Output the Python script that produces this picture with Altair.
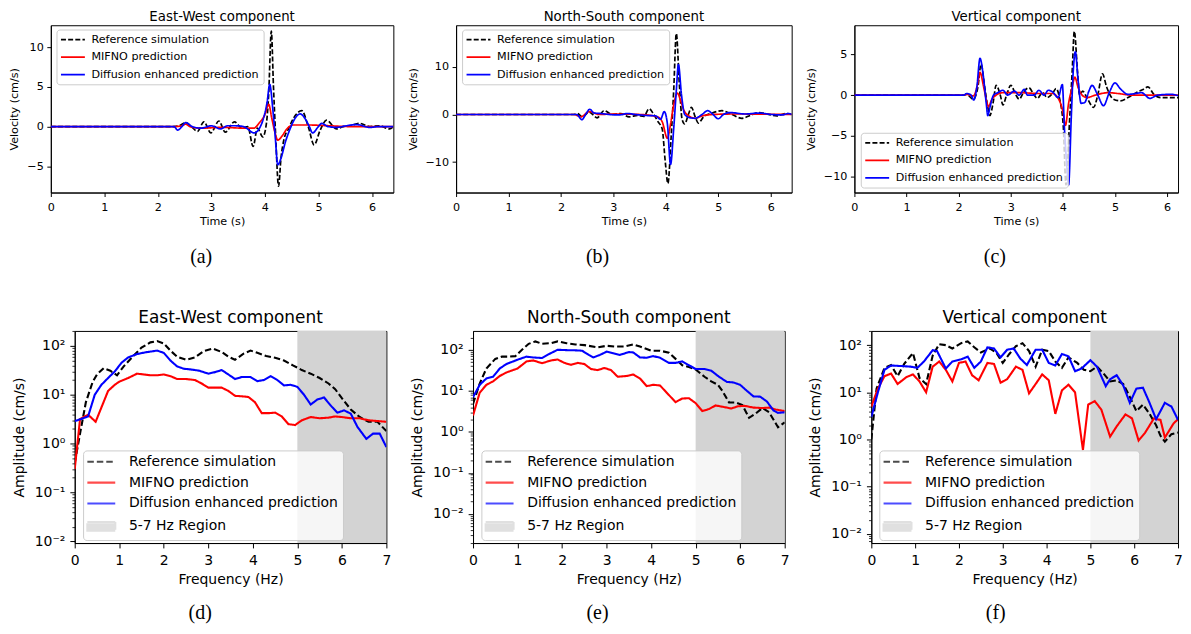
import altair as alt
import pandas as pd

FONT = "DejaVu Sans"
SERIF = "Liberation Serif"

SERIES = ["Reference simulation", "MIFNO prediction", "Diffusion enhanced prediction"]
REGION = "5-7 Hz Region"
SERIES4 = SERIES + [REGION]
LINE_COLORS = ["#000000", "#ff0000", "#0000ff"]
REGION_COLOR = "#d3d3d3"
TITLES = ["East-West component", "North-South component", "Vertical component"]
CAPTIONS_TOP = ["(a)", "(b)", "(c)"]
CAPTIONS_BOTTOM = ["(d)", "(e)", "(f)"]
TIME_TICKS = [0, 1, 2, 3, 4, 5, 6]
FREQ_TICKS = [0, 1, 2, 3, 4, 5, 6, 7]
VEL_TICKS = [[-5, 0, 5, 10], [-10, 0, 10], [-10, -5, 0, 5]]
VEL_DOMAINS = [[-8.3, 12.75], [-16.4, 18.75], [-11.93, 8.56]]
TIME_DOMAINS = [[0, 6.4], [0, 6.4], [0, 6.21]]   # panel (c) is cut at the right edge
AMP_DOMAINS = [[0.00925, 202], [0.00195, 288], [0.0064, 200]]
LOG_MINOR_MULT = [2, 3, 4, 5, 6, 7, 8, 9]
REGION_BAND = [5.0, 7.0]

# ---------------- (a) East-West velocity ----------------
EW_T_REF = [0, 2.3, 2.4, 2.52, 2.64, 2.74, 2.86, 2.99, 3.14, 3.26, 3.43, 3.57, 3.68, 3.78, 3.86, 3.96, 4.03, 4.07, 4.12, 4.16, 4.2, 4.255, 4.3, 4.36, 4.44, 4.53, 4.69, 4.81, 4.92, 5.03, 5.15, 5.34, 5.46, 5.59, 5.77, 5.96, 6.14, 6.33, 6.4]
EW_V_REF = [0, 0, 0.1, 0.5, -0.1, -0.6, 0.6, -0.8, 0.7, -0.7, 0.6, -0.2, 0.0, -2.5, -0.2, -1.3, 0.5, 4.0, 12.0, 5.0, -1.0, -7.5, -4.0, -1.5, -0.3, 1.0, 2.0, 0.0, -2.3, -0.5, 0.8, -0.3, 0.0, 0.1, 0.4, 0.0, 0.1, -0.3, 0.0]
EW_T_MIF = [0, 2.3, 2.45, 2.52, 2.6, 2.8, 3.2, 3.6, 3.79, 3.9, 4.0, 4.07, 4.13, 4.19, 4.24, 4.32, 4.41, 4.53, 4.8, 5.2, 5.6, 6.4]
EW_V_MIF = [0, 0, 0.1, 0.3, 0.0, -0.2, -0.1, -0.2, -0.2, 0.5, 1.5, 2.8, 1.0, -0.8, -1.7, -1.2, -0.3, 0.2, 0.2, 0.1, 0.0, 0.0]
EW_T_DIF = [0, 2.3, 2.37, 2.45, 2.52, 2.64, 2.8, 3.0, 3.17, 3.3, 3.45, 3.6, 3.8, 3.88, 3.98, 4.04, 4.09, 4.15, 4.19, 4.24, 4.3, 4.38, 4.47, 4.56, 4.66, 4.75, 4.83, 4.89, 5.0, 5.06, 5.18, 5.34, 5.52, 5.71, 5.96, 6.14, 6.4]
EW_V_DIF = [0, 0, -0.45, 0.0, 0.5, 0.0, -0.2, 0.1, -0.3, 0.1, 0.1, 0.0, -0.8, -0.4, 1.2, 3.0, 5.3, 2.0, -1.0, -4.8, -4.0, -2.0, -0.3, 1.0, 1.6, 1.0, 0.0, -0.8, 0.0, 0.4, 0.0, -0.1, 0.1, 0.25, -0.1, 0.0, 0.0]

# ---------------- (b) North-South velocity ----------------
NS_T_REF = [0, 2.25, 2.31, 2.41, 2.54, 2.69, 2.82, 2.98, 3.14, 3.3, 3.46, 3.58, 3.68, 3.77, 3.85, 3.93, 3.99, 4.04, 4.1, 4.15, 4.2, 4.26, 4.31, 4.36, 4.43, 4.49, 4.56, 4.62, 4.72, 4.88, 5.07, 5.26, 5.45, 5.61, 5.77, 5.96, 6.12, 6.28, 6.4]
NS_V_REF = [0, 0, 0.2, -0.5, 0.5, -0.7, 0.8, 0.0, 0.2, -0.5, -0.2, -0.4, 1.2, 0.0, -1.5, -3.0, -10.0, -14.5, -5.0, 5.0, 17.0, 6.0, -1.0, -2.0, 0.0, 1.5, -0.5, -1.8, -0.5, 0.3, 0.8, 0.0, -0.8, -0.2, 0.4, 0.0, -0.3, 0.2, 0.0]
NS_T_MIF = [0, 2.25, 2.38, 2.54, 2.73, 3.0, 3.5, 3.84, 3.93, 4.03, 4.09, 4.15, 4.22, 4.28, 4.34, 4.44, 4.56, 4.69, 4.9, 5.3, 6.4]
NS_V_MIF = [0, 0, -0.5, 0.6, 0.0, 0.1, 0.0, -0.5, -1.5, -5.0, -2.0, 2.0, 4.5, 3.0, 1.0, -0.3, -0.8, -0.3, 0.0, 0.1, 0.0]
NS_T_DIF = [0, 2.3, 2.4, 2.47, 2.55, 2.63, 2.76, 2.92, 3.11, 3.27, 3.42, 3.61, 3.8, 3.9, 3.97, 4.03, 4.09, 4.15, 4.2, 4.24, 4.3, 4.36, 4.47, 4.56, 4.69, 4.8, 4.9, 5.0, 5.1, 5.23, 5.52, 5.77, 6.02, 6.21, 6.34, 6.4]
NS_V_DIF = [0, 0, -1.1, 0.0, 1.1, 0.3, 0.2, 0.0, -0.1, 0.2, 0.0, -0.2, -0.3, -1.0, 0.6, -2.0, -10.5, -3.0, 5.0, 10.5, 4.0, 0.0, -0.7, -0.8, 0.0, 0.8, 0.0, -0.9, 0.0, 0.4, 0.1, 0.3, 0.0, -0.1, 0.2, 0.0]

# ---------------- (c) Vertical velocity ----------------
UD_T_REF = [0, 2.1, 2.15, 2.28, 2.37, 2.43, 2.5, 2.56, 2.6, 2.66, 2.72, 2.8, 2.85, 2.92, 3.0, 3.1, 3.16, 3.26, 3.35, 3.45, 3.51, 3.61, 3.7, 3.8, 3.87, 3.94, 4.01, 4.06, 4.13, 4.18, 4.22, 4.28, 4.32, 4.38, 4.46, 4.59, 4.67, 4.76, 4.84, 4.97, 5.1, 5.25, 5.41, 5.54, 5.63, 5.76, 5.89, 6.08, 6.27, 6.4]
UD_V_REF = [0, 0, 0.1, -0.5, 1.0, 3.8, 1.0, -1.5, -2.5, -1.0, 1.2, 0.0, -1.2, 0.0, 1.2, 0.0, -0.5, 0.5, 0.9, 0.0, -0.4, 0.3, -0.3, 0.2, 0.8, -0.5, -4.0, -11.0, -3.0, 3.0, 7.8, 3.0, 0.0, 0.5, -0.3, -1.5, 0.0, 2.6, 1.0, -0.5, -0.7, -0.3, 0.3, 0.7, 1.0, 0.0, -0.3, -0.3, -0.3, -0.2]
UD_T_MIF = [0, 2.1, 2.15, 2.28, 2.37, 2.41, 2.48, 2.54, 2.57, 2.64, 2.72, 2.85, 3.16, 3.54, 3.8, 3.92, 4.0, 4.05, 4.11, 4.18, 4.23, 4.29, 4.37, 4.46, 4.62, 4.87, 5.06, 5.32, 6.4]
UD_V_MIF = [0, 0, 0.1, -0.1, 1.5, 2.8, 1.0, -0.8, -1.4, -0.5, 0.0, 0.3, 0.3, 0.2, 0.2, -0.5, -2.0, -3.7, -1.0, 1.0, 2.2, 1.0, 0.0, -0.3, 0.0, 0.3, 0.2, 0.0, 0.0]
UD_T_DIF = [0, 2.1, 2.15, 2.24, 2.29, 2.35, 2.41, 2.48, 2.53, 2.56, 2.6, 2.67, 2.75, 2.85, 2.94, 3.07, 3.16, 3.26, 3.32, 3.45, 3.54, 3.64, 3.72, 3.8, 3.91, 3.99, 4.03, 4.08, 4.11, 4.16, 4.2, 4.24, 4.29, 4.35, 4.42, 4.5, 4.56, 4.67, 4.78, 4.89, 5.0, 5.1, 5.25, 5.4, 5.51, 5.67, 5.82, 6.08, 6.33, 6.4]
UD_V_DIF = [0, 0, 0.2, 0.0, -0.6, 1.0, 4.5, 2.0, -1.0, -2.5, -1.5, 0.0, 0.3, 0.6, 0.0, 0.5, 0.0, 0.7, 0.0, 0.0, 0.6, 0.0, 0.6, 0.4, -0.3, 1.3, -4.0, -9.0, -11.0, -3.0, 3.0, 5.3, 2.0, -1.0, -0.9, 0.5, 1.2, 0.0, -1.3, 0.3, 1.5, 0.8, 0.1, 0.2, 0.3, -0.4, 0.0, 0.1, -0.2, -0.1]

# ---------------- (d) East-West spectrum ----------------
EWF_F_REF = [0.0, 0.13, 0.25, 0.4, 0.5, 0.65, 0.8, 0.95, 1.1, 1.3, 1.5, 1.7, 1.85, 2.0, 2.15, 2.3, 2.5, 2.7, 2.9, 3.1, 3.3, 3.45, 3.6, 3.8, 3.95, 4.1, 4.3, 4.5, 4.7, 4.9, 5.1, 5.3, 5.5, 5.7, 5.85, 6.0, 6.2, 6.4, 6.6, 6.8, 7.0]
EWF_A_REF = [0.4, 1.8, 7.0, 18.0, 26.0, 35.0, 31.0, 25.0, 38.0, 60.0, 92.0, 118.0, 125.0, 112.0, 80.0, 60.0, 52.0, 58.0, 78.0, 88.0, 75.0, 60.0, 52.0, 70.0, 80.0, 72.0, 62.0, 57.0, 50.0, 40.0, 32.0, 27.0, 22.0, 17.0, 13.0, 8.5, 5.0, 3.5, 2.8, 2.8, 1.8]
EWF_F_MIF = [0.0, 0.12, 0.3, 0.47, 0.6, 0.75, 0.9, 1.0, 1.2, 1.4, 1.55, 1.7, 1.85, 2.0, 2.15, 2.3, 2.5, 2.7, 2.85, 3.0, 3.15, 3.3, 3.45, 3.6, 3.75, 3.9, 4.05, 4.2, 4.35, 4.5, 4.65, 4.8, 4.95, 5.1, 5.3, 5.5, 5.7, 5.85, 6.0, 6.2, 6.4, 6.6, 6.8, 7.0]
EWF_A_MIF = [0.3, 3.2, 3.9, 2.8, 5.5, 12.0, 16.0, 18.5, 22.0, 27.0, 26.0, 25.0, 25.0, 26.0, 24.0, 21.0, 21.0, 20.0, 17.0, 14.0, 14.0, 14.0, 12.0, 9.5, 9.3, 9.0, 7.0, 4.2, 4.2, 4.3, 3.6, 2.5, 2.4, 3.0, 3.5, 3.3, 3.4, 3.6, 3.5, 3.3, 3.3, 3.0, 2.9, 2.8]
EWF_F_DIF = [0.0, 0.15, 0.3, 0.45, 0.6, 0.75, 0.9, 1.05, 1.2, 1.4, 1.6, 1.85, 2.0, 2.15, 2.3, 2.45, 2.6, 2.8, 3.0, 3.15, 3.3, 3.45, 3.6, 3.75, 3.95, 4.1, 4.25, 4.4, 4.55, 4.7, 4.85, 5.0, 5.15, 5.3, 5.45, 5.6, 5.75, 5.9, 6.05, 6.2, 6.35, 6.55, 6.7, 6.85, 7.0]
EWF_A_DIF = [2.9, 3.2, 3.6, 10.0, 16.0, 22.0, 30.0, 45.0, 58.0, 68.0, 74.0, 80.0, 72.0, 50.0, 38.0, 34.0, 33.0, 31.0, 27.0, 29.0, 32.0, 26.0, 21.0, 23.0, 23.0, 19.0, 20.0, 24.0, 20.0, 15.5, 16.0, 14.5, 10.0, 6.3, 8.0, 8.8, 6.0, 4.3, 4.8, 4.1, 2.2, 1.25, 1.6, 1.6, 0.85]

# ---------------- (e) North-South spectrum ----------------
NSF_F_REF = [0.0, 0.15, 0.3, 0.5, 0.65, 0.8, 0.95, 1.1, 1.25, 1.4, 1.55, 1.75, 1.9, 2.1, 2.3, 2.5, 2.8, 3.0, 3.2, 3.4, 3.6, 3.75, 4.0, 4.2, 4.4, 4.55, 4.7, 4.85, 5.0, 5.2, 5.35, 5.5, 5.6, 5.75, 5.9, 6.05, 6.2, 6.35, 6.5, 6.65, 6.85, 7.0]
NSF_A_REF = [4.8, 15, 35, 60, 68, 68, 70, 100, 140, 160, 140, 145, 160, 145, 135, 130, 115, 125, 120, 120, 135, 120, 95, 95, 85, 60, 42, 38, 33, 22, 17, 14, 10, 5.2, 5.2, 4.5, 2.2, 2.8, 3.8, 3.0, 1.3, 1.7]
NSF_F_MIF = [0.0, 0.15, 0.3, 0.45, 0.6, 0.75, 0.9, 1.0, 1.2, 1.35, 1.55, 1.75, 1.9, 2.05, 2.2, 2.35, 2.5, 2.65, 2.8, 2.95, 3.1, 3.25, 3.45, 3.6, 3.75, 3.9, 4.05, 4.2, 4.35, 4.55, 4.7, 4.85, 5.0, 5.15, 5.3, 5.45, 5.6, 5.8, 5.95, 6.1, 6.3, 6.5, 6.65, 6.8, 7.0]
NSF_A_MIF = [2.5, 9, 14, 17, 23, 28, 32, 35, 52, 55, 47, 55, 58, 48, 43, 48, 45, 34, 32, 36, 32, 22, 23, 25, 20, 13, 14, 13.5, 9, 5.3, 6.5, 6.6, 5, 3.2, 3.6, 4.4, 4.1, 3.7, 4.2, 4.3, 3.9, 3.8, 3.9, 3.5, 3.2]
NSF_F_DIF = [0.0, 0.15, 0.3, 0.45, 0.6, 0.75, 0.9, 1.05, 1.2, 1.35, 1.55, 1.7, 1.9, 2.1, 2.3, 2.45, 2.6, 2.7, 2.85, 3.0, 3.15, 3.3, 3.5, 3.6, 3.75, 3.9, 4.05, 4.2, 4.4, 4.55, 4.7, 4.85, 5.0, 5.2, 5.35, 5.5, 5.7, 5.85, 6.0, 6.15, 6.3, 6.45, 6.6, 6.75, 6.85, 7.0]
NSF_A_DIF = [7, 14, 20, 22, 35, 45, 52, 60, 68, 65, 63, 78, 100, 98, 97, 95, 75, 65, 75, 90, 82, 75, 88, 86, 65, 64, 70, 64, 48, 48, 52, 42, 34, 34, 31, 23, 16.5, 16, 14, 10, 7.3, 7.2, 5.5, 3.3, 2.9, 3.0]

# ---------------- (f) Vertical spectrum ----------------
UDF_F_REF = [0.0, 0.12, 0.3, 0.45, 0.6, 0.75, 0.95, 1.1, 1.25, 1.4, 1.55, 1.7, 1.85, 2.05, 2.2, 2.35, 2.5, 2.7, 2.85, 3.0, 3.15, 3.3, 3.45, 3.6, 3.75, 3.9, 4.05, 4.2, 4.35, 4.5, 4.7, 4.85, 5.0, 5.15, 5.3, 5.45, 5.6, 5.75, 5.9, 6.05, 6.2, 6.35, 6.5, 6.6, 6.7, 6.85, 7.0]
UDF_A_REF = [1, 12, 33, 38, 22, 40, 68, 20, 15, 60, 105, 100, 85, 110, 120, 90, 70, 85, 70, 42, 65, 95, 110, 75, 35, 80, 75, 45, 33, 55, 42, 30, 28, 35, 25, 17, 18, 15, 8, 4, 5.5, 3.5, 2, 1.2, 0.9, 1.3, 1.4]
UDF_F_MIF = [0.0, 0.15, 0.3, 0.45, 0.6, 0.8, 0.95, 1.1, 1.25, 1.4, 1.55, 1.7, 1.85, 2.0, 2.15, 2.3, 2.45, 2.65, 2.8, 2.95, 3.1, 3.3, 3.45, 3.6, 3.75, 3.9, 4.05, 4.2, 4.35, 4.5, 4.65, 4.83, 4.95, 5.1, 5.25, 5.45, 5.6, 5.8, 5.95, 6.1, 6.25, 6.45, 6.6, 6.7, 6.9, 7.0]
UDF_A_MIF = [5, 12, 22, 25, 15, 21, 24, 17, 10, 35, 45, 30, 17, 42, 45, 23, 18, 42, 40, 16, 19, 35, 30, 9.5, 15, 24, 18, 3.5, 11, 14.5, 10, 0.6, 5.5, 6.5, 4.3, 1.15, 1.9, 3.4, 2.8, 0.95, 1.4, 2.8, 2.6, 1.1, 2.2, 2.7]
UDF_F_DIF = [0.0, 0.15, 0.3, 0.45, 0.7, 0.9, 1.05, 1.2, 1.4, 1.5, 1.7, 1.85, 2.05, 2.2, 2.35, 2.5, 2.65, 2.8, 2.95, 3.1, 3.25, 3.4, 3.55, 3.75, 3.9, 4.05, 4.2, 4.35, 4.5, 4.65, 4.8, 5.0, 5.15, 5.35, 5.45, 5.6, 5.75, 5.9, 6.05, 6.2, 6.35, 6.5, 6.7, 6.85, 7.0]
UDF_A_DIF = [3, 10, 30, 37, 36, 35, 33, 45, 78, 75, 32, 45, 50, 57, 33, 45, 90, 85, 55, 80, 85, 52, 38, 80, 80, 42, 37, 65, 58, 28, 32, 48, 35, 13.5, 19, 23, 14, 6, 12, 12.5, 6, 2.7, 6, 5, 2.6]

# ---------------- layout (pixels) ----------------
TOP_H = 168
TOP_W = [344, 337, 325]
TOP_SPACING = 63
BOT_H = 213
BOT_W = [313, 313, 308]
BOT_SPACING = 87
BOT_SHIFT = 24          # bottom row starts 24 px to the right of the top row
ROW_SPACING = 40
TOP_LEG = [(5.7, 4.3), (6.0, 4.3), (6.4, 108.0)]
BOT_LEG = [(8.4, 120.0), (8.4, 120.0), (8.0, 120.0)]
TOP_CAP_X = [151, 142, 141]
TOP_CAP_Y = 233
BOT_CAP_X = [126, 125, 125]
BOT_CAP_Y = 283
CAP_SIZE = 20


def long_frame(xname, yname, parts):
    rows = []
    for name, xs, ys in parts:
        rows += [{xname: x, yname: y, "series": name} for x, y in zip(xs, ys)]
    return pd.DataFrame(rows)


def caption_layer(text, cx, cy):
    return alt.Chart(pd.DataFrame({"label": [text]})).mark_text(
        font=SERIF, fontSize=CAP_SIZE, color="black", align="center", baseline="middle"
    ).encode(x=alt.value(cx), y=alt.value(cy), text="label:N")


def top_panel(i, parts):
    df = long_frame("t", "v", parts)
    lx, ly = TOP_LEG[i]
    legend = alt.Legend(
        title=None, orient="none", legendX=lx, legendY=ly,
        fillColor="rgba(255,255,255,0.8)", strokeColor="#cccccc", cornerRadius=3,
        padding=4.5, labelFont=FONT, labelFontSize=11.2, labelColor="black", labelLimit=400,
        symbolType="M-8,0H8", symbolSize=9, symbolStrokeWidth=1.7,
        symbolOffset=6.4, labelOffset=13, rowPadding=5.6,
    )
    xaxis = alt.Axis(values=TIME_TICKS, title="Time (s)", format="d", labelFontSize=11.2,
                     titleFontSize=11.2, tickSize=4, labelPadding=5, titlePadding=3,
                     labelFlush=False)
    yaxis = alt.Axis(values=VEL_TICKS[i], title="Velocity (cm/s)", format="d",
                     labelFontSize=11.2, titleFontSize=11.2, tickSize=4, labelPadding=3.6,
                     titlePadding=7)
    lines = alt.Chart(df).mark_line(interpolate="monotone", strokeWidth=1.7, clip=True).encode(
        x=alt.X("t:Q", scale=alt.Scale(domain=TIME_DOMAINS[i], nice=False, zero=False), axis=xaxis),
        y=alt.Y("v:Q", scale=alt.Scale(domain=VEL_DOMAINS[i], nice=False, zero=False), axis=yaxis),
        color=alt.Color("series:N", scale=alt.Scale(domain=SERIES, range=LINE_COLORS), legend=legend),
        strokeDash=alt.StrokeDash("series:N", scale=alt.Scale(domain=SERIES, range=[[5, 2.2], [1, 0], [1, 0]]), legend=legend),
    )
    cap = caption_layer(CAPTIONS_TOP[i], TOP_CAP_X[i], TOP_CAP_Y)
    return alt.layer(lines, cap).properties(
        width=TOP_W[i], height=TOP_H,
        title=alt.TitleParams(TITLES[i], fontSize=13.4, offset=2, font=FONT,
                              fontWeight="normal", color="black"),
    )


MINOR_TEST = "abs(log(datum.value)/LN10 - round(log(datum.value)/LN10)) > 0.01"
EXP = "round(log(datum.value)/LN10)"
LOG_LABELS = (
    f"{MINOR_TEST} ? '' : {EXP} == 2 ? '10²' : {EXP} == 1 ? '10¹' : {EXP} == 0 ? '10⁰' : "
    f"{EXP} == -1 ? '10⁻¹' : '10⁻²'"
)
LINE_SYM = "M-7,0H7"
PATCH_SYM = "M-7,-2.2H7V-1.1H-7V0H7V1.1H-7V2.2H7"


def bottom_panel(i, parts):
    df = long_frame("f", "a", parts)
    lo, hi = AMP_DOMAINS[i]
    ticks = [m * 10.0 ** k for k in range(-3, 3) for m in [1] + LOG_MINOR_MULT]
    ticks = [v for v in ticks if lo <= v <= hi]
    lx, ly = BOT_LEG[i]
    legend = alt.Legend(
        title=None, orient="none", legendX=lx, legendY=ly,
        fillColor="rgba(255,255,255,0.8)", strokeColor="#cccccc", cornerRadius=3.5,
        padding=4.3, labelFont=FONT, labelFontSize=14, labelColor="black", labelLimit=500,
        symbolSize=16, symbolStrokeWidth=2.1,
        symbolOffset=7, labelOffset=20.7, rowPadding=7,
    )
    xscale = alt.Scale(domain=[0, 7], nice=False, zero=False)
    yscale = alt.Scale(type="log", domain=AMP_DOMAINS[i], nice=False)
    xaxis = alt.Axis(values=FREQ_TICKS, title="Frequency (Hz)", format="d", labelFontSize=14,
                     titleFontSize=14, tickSize=4.9, labelPadding=6, titlePadding=5,
                     labelFlush=False)
    yaxis = alt.Axis(values=ticks, title="Amplitude (cm/s)", labelExpr=LOG_LABELS,
                     labelFontSize={"condition": {"test": MINOR_TEST, "value": 0}, "value": 14},
                     titleFontSize=14,
                     tickSize={"condition": {"test": MINOR_TEST, "value": 2.8}, "value": 4.9},
                     tickWidth={"condition": {"test": MINOR_TEST, "value": 0.8}, "value": 1},
                     labelPadding=5, titlePadding=8, labelOverlap=False)
    band = alt.Chart(pd.DataFrame({"f0": [REGION_BAND[0]], "f1": [REGION_BAND[1]]})).mark_rect(
        color=REGION_COLOR, clip=True
    ).encode(x=alt.X("f0:Q", scale=xscale, axis=xaxis), x2="f1:Q")
    color = alt.Color("series:N", scale=alt.Scale(domain=SERIES4, range=LINE_COLORS + [REGION_COLOR]), legend=legend)
    lines = alt.Chart(df).mark_line(strokeWidth=2.1, clip=True).encode(
        x=alt.X("f:Q", scale=xscale, axis=xaxis),
        y=alt.Y("a:Q", scale=yscale, axis=yaxis),
        color=color,
        strokeDash=alt.StrokeDash("series:N", scale=alt.Scale(domain=SERIES4, range=[[6.5, 3], [1, 0], [1, 0], [1, 0]]), legend=legend),
    )
    keys = alt.Chart(pd.DataFrame({"f": [None] * 4, "a": [None] * 4, "series": SERIES4})).mark_point(
        filled=False
    ).encode(
        x=alt.X("f:Q", scale=xscale, axis=xaxis),
        y=alt.Y("a:Q", scale=yscale, axis=yaxis),
        color=color,
        shape=alt.Shape("series:N", scale=alt.Scale(domain=SERIES4, range=[LINE_SYM, LINE_SYM, LINE_SYM, PATCH_SYM]), legend=legend),
    )
    cap = caption_layer(CAPTIONS_BOTTOM[i], BOT_CAP_X[i], BOT_CAP_Y)
    return alt.layer(band, lines, keys, cap).properties(
        width=BOT_W[i], height=BOT_H,
        title=alt.TitleParams(TITLES[i], fontSize=17, offset=3.7, font=FONT,
                              fontWeight="normal", color="black"),
    )


IND = dict(color="independent", strokeDash="independent", shape="independent")

a = top_panel(0, [(SERIES[0], EW_T_REF, EW_V_REF), (SERIES[1], EW_T_MIF, EW_V_MIF), (SERIES[2], EW_T_DIF, EW_V_DIF)])
b = top_panel(1, [(SERIES[0], NS_T_REF, NS_V_REF), (SERIES[1], NS_T_MIF, NS_V_MIF), (SERIES[2], NS_T_DIF, NS_V_DIF)])
c = top_panel(2, [(SERIES[0], UD_T_REF, UD_V_REF), (SERIES[1], UD_T_MIF, UD_V_MIF), (SERIES[2], UD_T_DIF, UD_V_DIF)])
d = bottom_panel(0, [(SERIES[0], EWF_F_REF, EWF_A_REF), (SERIES[1], EWF_F_MIF, EWF_A_MIF), (SERIES[2], EWF_F_DIF, EWF_A_DIF)])
e = bottom_panel(1, [(SERIES[0], NSF_F_REF, NSF_A_REF), (SERIES[1], NSF_F_MIF, NSF_A_MIF), (SERIES[2], NSF_F_DIF, NSF_A_DIF)])
f = bottom_panel(2, [(SERIES[0], UDF_F_REF, UDF_A_REF), (SERIES[1], UDF_F_MIF, UDF_A_MIF), (SERIES[2], UDF_F_DIF, UDF_A_DIF)])

# invisible 1-px spacer that shifts the bottom row to the right
spacer = alt.Chart(pd.DataFrame({"z": [0]})).mark_point(opacity=0).encode(
    x=alt.X("z:Q", axis=None), y=alt.Y("z:Q", axis=None)
).properties(width=1, height=1, view=alt.ViewBackground(stroke="transparent"))

top = alt.hconcat(a, b, c, spacing=TOP_SPACING, bounds="flush").resolve_scale(**IND)
bottom_inner = alt.hconcat(d, e, f, spacing=BOT_SPACING, bounds="flush").resolve_scale(**IND)
bottom = alt.hconcat(spacer, bottom_inner, spacing=BOT_SHIFT - 1, bounds="flush").resolve_scale(**IND)

chart = (
    alt.vconcat(top, bottom, spacing=ROW_SPACING)
    .resolve_scale(**IND)
    .properties(padding={"left": 0, "top": 0, "right": 0, "bottom": 0}, background="white")
    .configure_view(stroke="black", strokeWidth=1)
    .configure_axis(domainColor="black", tickColor="black", labelColor="black", titleColor="black",
                    grid=False, labelFont=FONT, titleFont=FONT, titleFontWeight="normal",
                    domainWidth=1, tickWidth=1)
    .configure_title(font=FONT, fontWeight="normal", color="black")
)

chart.save("out.html", embed_options={"renderer": "svg", "actions": False})
